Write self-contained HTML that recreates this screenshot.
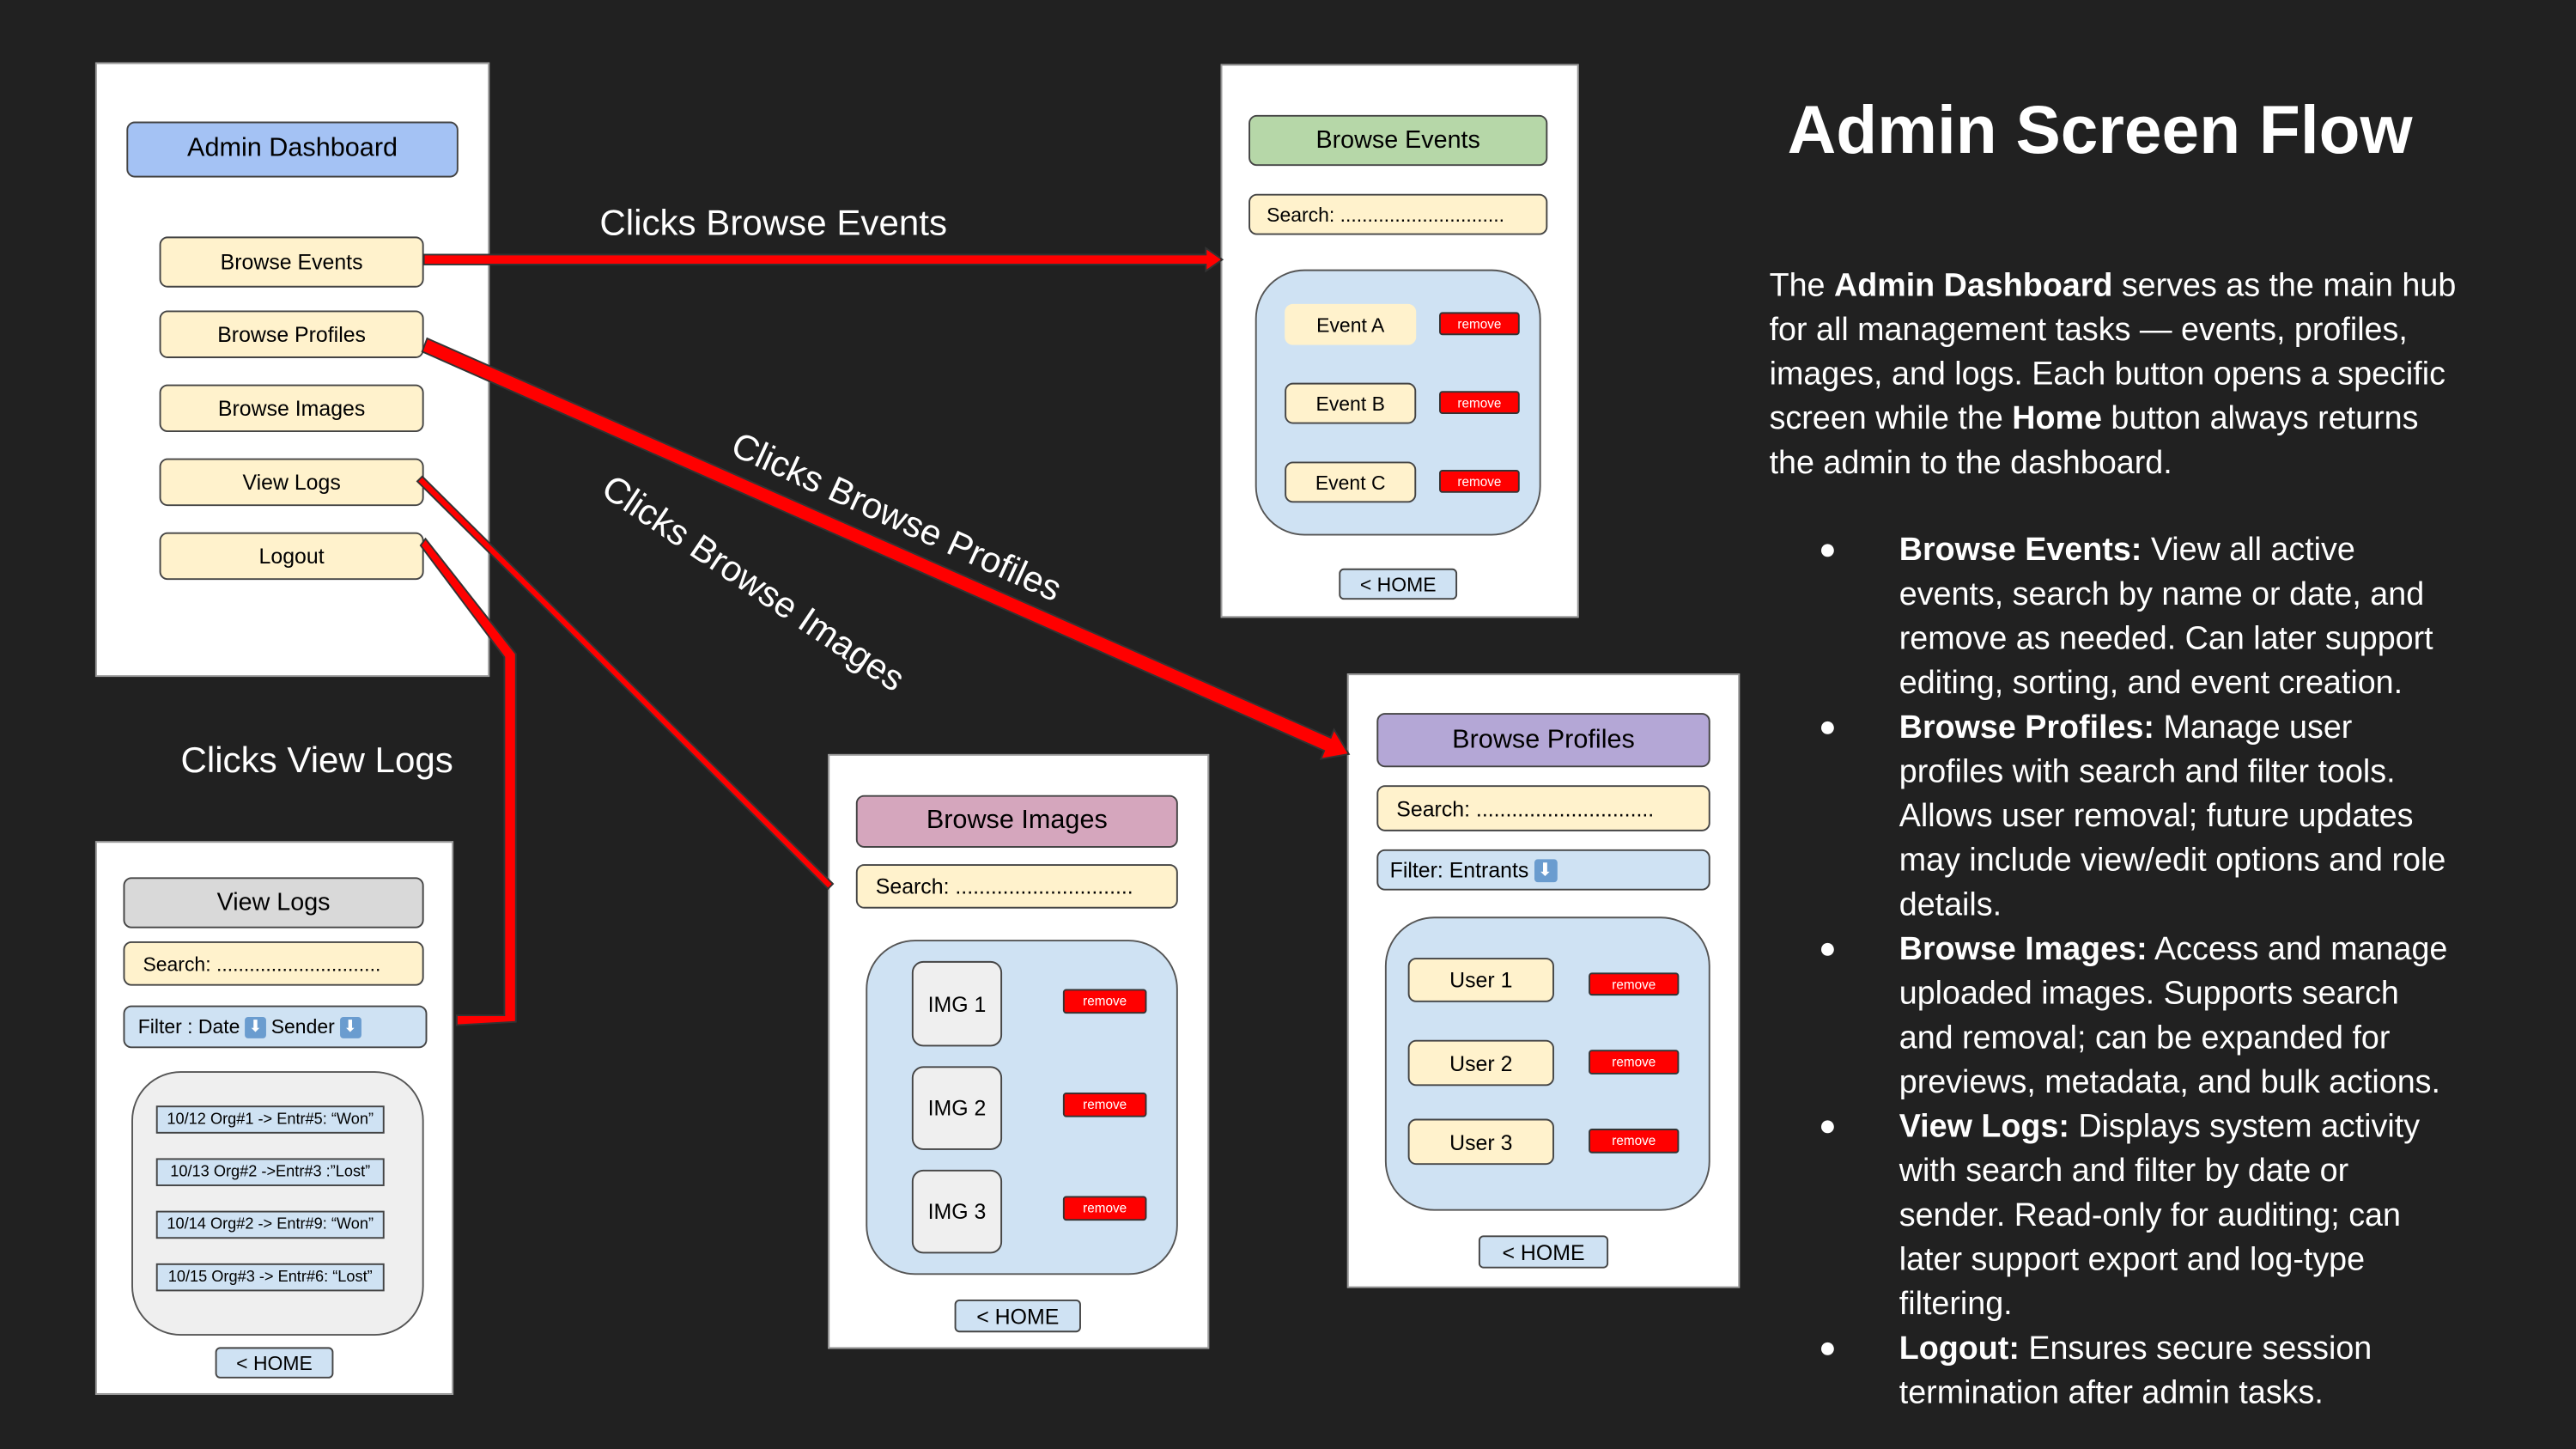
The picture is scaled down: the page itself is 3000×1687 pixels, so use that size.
<!DOCTYPE html>
<html><head><meta charset="utf-8"><style>
*{margin:0;padding:0;box-sizing:border-box}
html,body{width:3000px;height:1687px;overflow:hidden;background:#212121}
#s{position:absolute;left:0;top:0;width:1568px;height:882px;transform:scale(1.91327,1.9127);transform-origin:0 0;font-family:"Liberation Sans",sans-serif;background:#212121}
.a{position:absolute}
.p{position:absolute;background:#fff;border:1px solid #999}
.b{position:absolute;border:1px solid #444;border-radius:5px;display:flex;align-items:center;justify-content:center;color:#000;white-space:nowrap}
.y{background:#fff2cc}.bl{background:#cfe2f3}
.r{position:absolute;background:#f00;border:1px solid #333;border-radius:2px;color:#fff;font-size:8px;display:flex;align-items:center;justify-content:center}
.in{position:absolute;border:1px solid #555;border-radius:30px}
.lbl{position:absolute;color:#fff;font-size:22px;white-space:nowrap;transform-origin:0 0}
.rt{position:absolute;color:#fff;font-size:19.7px;line-height:27px;white-space:nowrap}
.li{position:absolute;left:1156px;color:#fff;font-size:19.7px;line-height:27px;white-space:nowrap}
.dot{position:absolute;left:1107px;color:#fff;font-size:18px}
</style></head><body><div id="s">

<!-- Admin dashboard -->
<div class="p" style="left:58px;top:38px;width:240px;height:374px"></div>
<div class="b" style="left:77px;top:74px;width:202px;height:34px;background:#a4c2f4;font-size:16px">Admin Dashboard</div>
<div class="b y" style="left:97px;top:144px;width:161px;height:31px;font-size:13px">Browse Events</div>
<div class="b y" style="left:97px;top:189px;width:161px;height:29px;font-size:13px">Browse Profiles</div>
<div class="b y" style="left:97px;top:234px;width:161px;height:29px;font-size:13px">Browse Images</div>
<div class="b y" style="left:97px;top:279px;width:161px;height:29px;font-size:13px">View Logs</div>
<div class="b y" style="left:97px;top:324px;width:161px;height:29px;font-size:13px">Logout</div>

<!-- Browse Events -->
<div class="p" style="left:743px;top:39px;width:218px;height:337px"></div>
<div class="b" style="left:760px;top:70px;width:182px;height:31px;background:#b6d7a8;font-size:15px">Browse Events</div>
<div class="b y" style="left:760px;top:118px;width:182px;height:25px;font-size:12px;justify-content:flex-start;padding-left:10px">Search: ..............................</div>
<div class="in bl" style="left:764px;top:164px;width:174px;height:162px"></div>
<div class="b y" style="left:782px;top:185px;width:80px;height:25px;font-size:12px;border-color:#fff2cc">Event A</div>
<div class="b y" style="left:782px;top:233px;width:80px;height:25px;font-size:12px">Event B</div>
<div class="b y" style="left:782px;top:281px;width:80px;height:25px;font-size:12px">Event C</div>
<div class="r" style="left:876px;top:190px;width:49px;height:14px">remove</div>
<div class="r" style="left:876px;top:238px;width:49px;height:14px">remove</div>
<div class="r" style="left:876px;top:286px;width:49px;height:14px">remove</div>
<div class="b bl" style="left:815px;top:346px;width:72px;height:19px;font-size:12px;border-radius:3px">&lt; HOME</div>

<!-- Browse Profiles -->
<div class="p" style="left:820px;top:410px;width:239px;height:374px"></div>
<div class="b" style="left:838px;top:434px;width:203px;height:33px;background:#b4a7d6;font-size:16px">Browse Profiles</div>
<div class="b y" style="left:838px;top:478px;width:203px;height:28px;font-size:13px;justify-content:flex-start;padding-left:11px">Search: ..............................</div>
<div class="b bl" style="left:838px;top:517px;width:203px;height:25px;font-size:13px;justify-content:flex-start;padding-left:7px">Filter: Entrants <span style="display:inline-block;width:14px;height:14px;background:#6a9ccf;color:#fff;font-size:11px;line-height:14px;text-align:center;margin-left:3px;border-radius:2px">⬇</span></div>
<div class="in bl" style="left:843px;top:558px;width:198px;height:179px"></div>
<div class="b y" style="left:857px;top:583px;width:89px;height:27px;font-size:13px">User 1</div>
<div class="b y" style="left:857px;top:633px;width:89px;height:28px;font-size:13px">User 2</div>
<div class="b y" style="left:857px;top:681px;width:89px;height:28px;font-size:13px">User 3</div>
<div class="r" style="left:967px;top:592px;width:55px;height:14px">remove</div>
<div class="r" style="left:967px;top:639px;width:55px;height:15px">remove</div>
<div class="r" style="left:967px;top:687px;width:55px;height:15px">remove</div>
<div class="b bl" style="left:900px;top:752px;width:79px;height:20px;font-size:13px;border-radius:3px">&lt; HOME</div>

<!-- Browse Images -->
<div class="p" style="left:504px;top:459px;width:232px;height:362px"></div>
<div class="b" style="left:521px;top:484px;width:196px;height:32px;background:#d5a6bd;font-size:16px">Browse Images</div>
<div class="b y" style="left:521px;top:526px;width:196px;height:27px;font-size:13px;justify-content:flex-start;padding-left:11px">Search: ..............................</div>
<div class="in bl" style="left:527px;top:572px;width:190px;height:204px"></div>
<div class="b" style="left:555px;top:585px;width:55px;height:52px;background:#efefef;font-size:13px;border-radius:7px">IMG 1</div>
<div class="b" style="left:555px;top:649px;width:55px;height:51px;background:#efefef;font-size:13px;border-radius:7px">IMG 2</div>
<div class="b" style="left:555px;top:712px;width:55px;height:51px;background:#efefef;font-size:13px;border-radius:7px">IMG 3</div>
<div class="r" style="left:647px;top:602px;width:51px;height:15px">remove</div>
<div class="r" style="left:647px;top:665px;width:51px;height:15px">remove</div>
<div class="r" style="left:647px;top:728px;width:51px;height:15px">remove</div>
<div class="b bl" style="left:581px;top:791px;width:77px;height:20px;font-size:13px;border-radius:3px">&lt; HOME</div>

<!-- View Logs -->
<div class="p" style="left:58px;top:512px;width:218px;height:337px"></div>
<div class="b" style="left:75px;top:534px;width:183px;height:31px;background:#d9d9d9;font-size:15px">View Logs</div>
<div class="b y" style="left:75px;top:573px;width:183px;height:27px;font-size:12px;justify-content:flex-start;padding-left:11px">Search: ..............................</div>
<div class="b bl" style="left:75px;top:612px;width:185px;height:26px;font-size:12px;justify-content:flex-start;padding-left:8px">Filter : Date <span style="display:inline-block;width:13px;height:13px;background:#6a9ccf;color:#fff;font-size:10px;line-height:13px;text-align:center;margin:0 3px;border-radius:2px">⬇</span> Sender <span style="display:inline-block;width:13px;height:13px;background:#6a9ccf;color:#fff;font-size:10px;line-height:13px;text-align:center;margin-left:3px;border-radius:2px">⬇</span></div>
<div class="in" style="left:80px;top:652px;width:178px;height:161px;background:#efefef"></div>
<div class="b bl" style="left:95px;top:673px;width:139px;height:17px;font-size:9.5px;border-radius:0">10/12 Org#1 -&gt; Entr#5: “Won”</div>
<div class="b bl" style="left:95px;top:705px;width:139px;height:17px;font-size:9.5px;border-radius:0">10/13 Org#2 -&gt;Entr#3 :”Lost”</div>
<div class="b bl" style="left:95px;top:737px;width:139px;height:17px;font-size:9.5px;border-radius:0">10/14 Org#2 -&gt; Entr#9: “Won”</div>
<div class="b bl" style="left:95px;top:769px;width:139px;height:17px;font-size:9.5px;border-radius:0">10/15 Org#3 -&gt; Entr#6: “Lost”</div>
<div class="b bl" style="left:131px;top:820px;width:72px;height:19px;font-size:12px;border-radius:3px">&lt; HOME</div>

<!-- Arrows -->
<svg class="a" style="left:0;top:0" width="1568" height="882">
<g stroke="#333" stroke-width="1" fill="#f00">
<polygon points="258,155 734,155 734,151 744,158 734,165 734,161 258,161"/>
<polygon points="260,206 810,449 812,444 821,459 804,462 806,457 257,214"/>
<polygon points="257,290 507,538 504,541 254,293"/>
<polygon points="256,332 259,328 314,398 314,622 278,624 278,618 307,618 307,400"/>
</g>
</svg>

<div class="lbl" style="left:452px;top:258px;transform:rotate(24.5deg)">Clicks Browse Profiles</div>
<div class="lbl" style="left:376px;top:284px;transform:rotate(34deg)">Clicks Browse Images</div>
<div class="lbl" style="left:365px;top:123px">Clicks Browse Events</div>
<div class="lbl" style="left:110px;top:450px">Clicks View Logs</div>

<!-- Right text -->
<div class="a" style="left:1088px;top:56px;color:#fff;font-size:41px;font-weight:bold;white-space:nowrap">Admin Screen Flow</div>
<div class="rt" style="left:1077px;top:161px">The <b>Admin Dashboard</b> serves as the main hub<br>for all management tasks — events, profiles,<br>images, and logs. Each button opens a specific<br>screen while the <b>Home</b> button always returns<br>the admin to the dashboard.</div>
<div class="dot" style="top:324px">●</div>
<div class="li" style="top:322px"><b>Browse Events:</b> View all active<br>events, search by name or date, and<br>remove as needed. Can later support<br>editing, sorting, and event creation.</div>
<div class="dot" style="top:432px">●</div>
<div class="li" style="top:430px"><b>Browse Profiles:</b> Manage user<br>profiles with search and filter tools.<br>Allows user removal; future updates<br>may include view/edit options and role<br>details.</div>
<div class="dot" style="top:567px">●</div>
<div class="li" style="top:565px"><b>Browse Images:</b> Access and manage<br>uploaded images. Supports search<br>and removal; can be expanded for<br>previews, metadata, and bulk actions.</div>
<div class="dot" style="top:675px">●</div>
<div class="li" style="top:673px"><b>View Logs:</b> Displays system activity<br>with search and filter by date or<br>sender. Read-only for auditing; can<br>later support export and log-type<br>filtering.</div>
<div class="dot" style="top:810px">●</div>
<div class="li" style="top:808px"><b>Logout:</b> Ensures secure session<br>termination after admin tasks.</div>

</div></body></html>
